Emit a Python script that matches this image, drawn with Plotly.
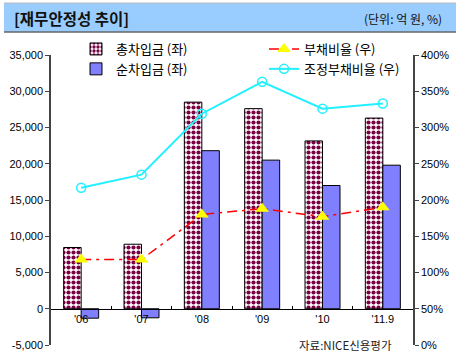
import plotly.graph_objects as go

categories = ["'06", "'07", "'08", "'09", "'10", "'11.9"]
total_debt = [8450, 8900, 28500, 27600, 23150, 26300]      # 총차입금 (좌)
net_debt = [-1300, -1250, 21800, 20500, 17000, 19800]      # 순차입금 (좌)
debt_ratio = [118, 118, 180, 188, 177, 190]                # 부채비율 (우)
adj_debt_ratio = [217, 235, 319, 363, 326, 333]            # 조정부채비율 (우)

left_ticks = list(range(-5000, 35001, 5000))
right_ticks = list(range(0, 401, 50))

KFONT = "Noto Sans CJK KR"
NFONT = "Liberation Sans, Arial, sans-serif"

fig = go.Figure()
fig.add_trace(go.Bar(
    x=categories, y=total_debt, name="총차입금 (좌)", yaxis="y",
    marker=dict(color="#7A0044", line=dict(color="#000000", width=1),
                pattern=dict(shape=".", bgcolor="#FFFFFF", fgcolor="#7A0044",
                             size=5, solidity=0.55, fillmode="replace")),
    legend="legend",
))
fig.add_trace(go.Bar(
    x=categories, y=net_debt, name="순차입금 (좌)", yaxis="y",
    marker=dict(color="#8080FF", line=dict(color="#000000", width=1)),
    legend="legend",
))
fig.add_trace(go.Scatter(
    x=categories, y=debt_ratio, name="부채비율 (우)", yaxis="y2",
    mode="lines+markers",
    line=dict(color="#FF0000", width=1.5, dash="10px,5px,3px,5px"),
    marker=dict(symbol="triangle-up", size=12, color="#FFFF00"),
    legend="legend2",
))
fig.add_trace(go.Scatter(
    x=categories, y=adj_debt_ratio, name="조정부채비율 (우)", yaxis="y2",
    mode="lines+markers",
    line=dict(color="#22F0FF", width=2),
    marker=dict(symbol="circle-open", size=9, color="#22F0FF", line=dict(width=1.5)),
    legend="legend2",
))

W, H = 459, 359
L, R, T, B = 51, 46, 55, 14
pw, ph = W - L - R, H - T - B
def px(x):
    return (x - L) / pw
def py(y):
    return (H - B - y) / ph

fig.update_layout(
    width=W, height=H,
    margin=dict(l=L, r=R, t=T, b=B, autoexpand=False),
    paper_bgcolor="white", plot_bgcolor="white",
    barmode="group", bargap=0.42, bargroupgap=0,
    font=dict(family=NFONT, size=11, color="#000000"),
    xaxis=dict(
        type="category", anchor="free", position=0.125, automargin=False,
        range=[-0.5, len(categories) - 0.5], autorange=False,
        showline=True, linecolor="#000000", linewidth=1,
        ticks="inside", ticklen=3, tickcolor="#000000", tickson="boundaries",
        showgrid=False, zeroline=False, tickfont=dict(family=NFONT, size=11),
    ),
    yaxis=dict(
        range=[-5000, 35000], tickvals=left_ticks, automargin=False,
        ticktext=[f"{v:,}" for v in left_ticks],
        showline=True, linecolor="#444444", linewidth=1.5,
        ticks="outside", ticklen=4, tickcolor="#444444",
        showgrid=False, zeroline=False, tickfont=dict(family=NFONT, size=11),
    ),
    yaxis2=dict(
        range=[0, 400], tickvals=right_ticks, automargin=False,
        ticktext=[f"{v}%" for v in right_ticks],
        overlaying="y", side="right",
        showline=True, linecolor="#444444", linewidth=1.5,
        ticks="outside", ticklen=4, tickcolor="#444444",
        showgrid=False, zeroline=False, tickfont=dict(family=NFONT, size=11),
    ),
    legend=dict(
        x=px(76), y=py(34), xanchor="left", yanchor="top",
        bgcolor="rgba(0,0,0,0)", font=dict(family=KFONT, size=13),
        tracegroupgap=0, itemwidth=30,
    ),
    legend2=dict(
        x=px(264), y=py(34), xanchor="left", yanchor="top",
        bgcolor="rgba(0,0,0,0)", font=dict(family=KFONT, size=13),
        tracegroupgap=0, itemwidth=30,
    ),
    shapes=[
        dict(type="rect", xref="paper", yref="paper",
             x0=px(4), x1=px(456), y0=py(32), y1=py(3),
             fillcolor="#99CCFF", line=dict(width=0), layer="below"),
        dict(type="line", xref="paper", yref="paper",
             x0=px(4), x1=px(456), y0=py(32), y1=py(32),
             line=dict(color="#666666", width=1.5)),
        dict(type="line", xref="paper", yref="paper",
             x0=px(4), x1=px(456), y0=py(3), y1=py(3),
             line=dict(color="#BBBBBB", width=1)),
    ],
    annotations=[
        dict(text="<b>[재무안정성 추이]</b>", xref="paper", yref="paper",
             x=px(12), y=py(18), xanchor="left", yanchor="middle",
             showarrow=False, font=dict(family=KFONT, size=15.5, color="#111111")),
        dict(text="(단위: 억 원, %)", xref="paper", yref="paper",
             x=px(444), y=py(19), xanchor="right", yanchor="middle",
             showarrow=False, font=dict(family=KFONT, size=12, color="#111111")),
        dict(text="자료:NICE신용평가", xref="paper", yref="paper",
             x=px(394), y=py(345), xanchor="right", yanchor="middle",
             showarrow=False, font=dict(family=KFONT, size=11.5, color="#222222")),
    ],
)

fig.write_html(
    "out.html",
    config={"displayModeBar": False},
    post_script="document.body.style.margin='0';document.body.style.padding='0';document.body.style.overflow='hidden';",
)
